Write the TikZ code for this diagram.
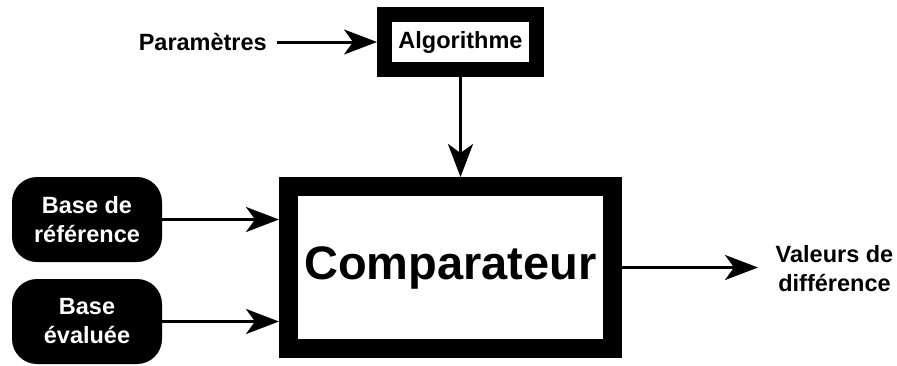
\documentclass[tikz,border=0pt]{standalone}
\usepackage{fontspec}
\setmainfont{Liberation Sans}
\usetikzlibrary{arrows.meta}
\begin{document}
\begin{tikzpicture}[x=1pt,y=-1pt,
  lbl/.style={font=\fontsize{23.5}{29}\selectfont\bfseries, align=center, inner sep=0pt},
  frame/.style={draw=black, fill=white, inner sep=0pt},
  base/.style={fill=black, text=white, rounded corners=25pt, minimum width=150pt, minimum height=85pt, inner sep=0pt, font=\fontsize{23.5}{29}\selectfont\bfseries, align=center},
  conn/.style={line width=3pt, -{Stealth[length=33pt, width=25pt, inset=9pt]}}
]
\useasboundingbox (0,0) rectangle (897,365);
\node[lbl, anchor=east] (params) at (267,42) {Paramètres};
\node[frame, line width=15pt, minimum width=152pt, minimum height=55pt, font=\fontsize{23.5}{29}\selectfont\bfseries] (algo) at (460.5,42) {Algorithme};
\node[frame, line width=19pt, minimum width=324pt, minimum height=162pt, font=\fontsize{47}{56}\selectfont\bfseries] (comp) at (450.5,267.5) {Comparateur};
\node[base] (ref) at (87,219.5) {Base de\\référence};
\node[base] (eval) at (87,321.5) {Base\\évaluée};
\node[lbl] (out) at (834.5,268.5) {Valeurs de\\différence};
\coordinate (outend) at (758,267.5);
\draw[conn] ([xshift=10pt]params.east) -- (algo.west);
\draw[conn] (algo.south) -- (algo.south |- comp.north);
\draw[conn] (ref.east) -- (comp.west |- ref.east);
\draw[conn] (eval.east) -- (comp.west |- eval.east);
\draw[conn] (comp.east) -- (outend);
\end{tikzpicture}
\end{document}
